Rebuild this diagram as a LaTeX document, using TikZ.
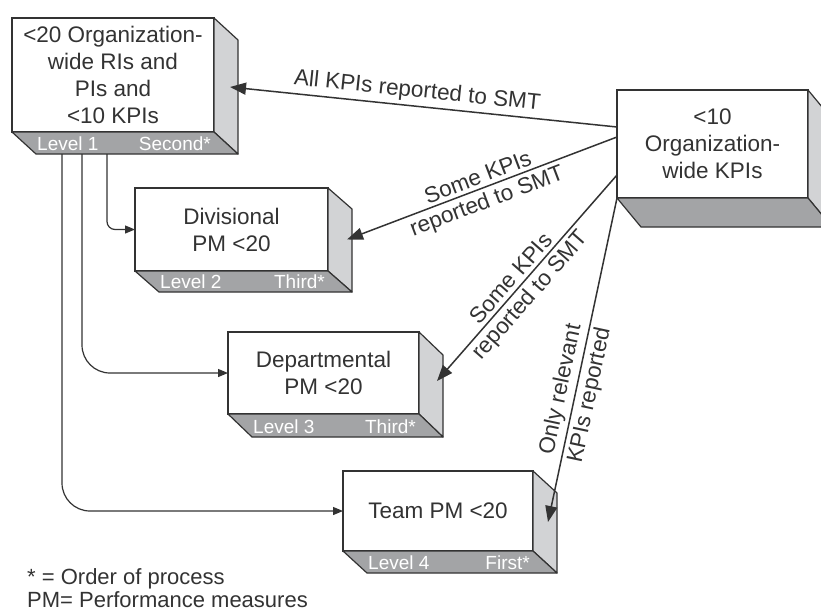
\documentclass[tikz,border=0pt]{standalone}
\usepackage{fontspec}
\setmainfont{Liberation Sans}
\usetikzlibrary{arrows.meta,calc}
\definecolor{ink}{HTML}{333333}
\definecolor{sidegray}{HTML}{D2D3D5}
\definecolor{botgray}{HTML}{A3A4A6}
\tikzset{
  frontbox/.style={draw=ink, fill=white, line width=1.2pt, outer sep=0pt, inner sep=2pt,
    align=center, text=ink, font=\fontsize{22.5}{27}\selectfont},
  sideface/.style={draw=ink, fill=sidegray, line width=1.2pt, line join=round},
  botface/.style={draw=ink, fill=botgray, line width=1.2pt, line join=round},
  lvltext/.style={text=white, font=\fontsize{19}{19}\selectfont, inner sep=0pt},
  arrback/.style={draw=ink, line width=1.5pt, {Triangle[length=16pt,width=12pt]}-},
  elbl/.style={text=ink, font=\fontsize{22.5}{27}\selectfont, inner sep=3.5pt},
  larr/.style={draw=ink, line width=1.2pt, -{Triangle[length=10pt,width=8pt]}},
  foottext/.style={text=ink, font=\fontsize{22}{27}\selectfont, inner sep=0pt},
}
\begin{document}
\begin{tikzpicture}[x=1pt,y=-1pt]
  \path[use as bounding box, fill=white] (0,0) rectangle (821,613);
  \clip (0,0) rectangle (821,613);

  % box level 1
  \node[frontbox, minimum width=202pt, minimum height=114pt] (b1) at (113,75) {<20 Organization-\\wide RIs and\\PIs and\\<10 KPIs};
  \draw[sideface] (b1.north east) -- ++(24,22) -- ++(0,114) -- (b1.south east) -- cycle;
  \draw[botface] (b1.south west) -- ++(24,22) -- ++(202,0) -- (b1.south east) -- cycle;
  \node[lvltext, anchor=base west] (b1l) at ($(b1.south west)+(25,18)$) {Level 1};
  \node[lvltext, anchor=base east] (b1r) at ($(b1.south east)+(-3,18)$) {Second*};

  % organization-wide KPIs
  \node[frontbox, minimum width=191pt, minimum height=108pt] (kpi) at (712.5,144) {<10\\Organization-\\wide KPIs};
  \draw[sideface] (kpi.north east) -- ++(24,29) -- ++(0,108) -- (kpi.south east) -- cycle;
  \draw[botface] (kpi.south west) -- ++(24,29) -- ++(191,0) -- (kpi.south east) -- cycle;

  % box level 2
  \node[frontbox, minimum width=193pt, minimum height=83pt] (b2) at (231.5,229.5) {Divisional\\PM <20};
  \draw[sideface] (b2.north east) -- ++(24,21) -- ++(0,83) -- (b2.south east) -- cycle;
  \draw[botface] (b2.south west) -- ++(24,21) -- ++(193,0) -- (b2.south east) -- cycle;
  \node[lvltext, anchor=base west] (b2l) at ($(b2.south west)+(25,17)$) {Level 2};
  \node[lvltext, anchor=base east] (b2r) at ($(b2.south east)+(-3,17)$) {Third*};

  % box level 3
  \node[frontbox, minimum width=191pt, minimum height=82pt] (b3) at (323.5,373) {Departmental\\PM <20};
  \draw[sideface] (b3.north east) -- ++(24,23) -- ++(0,82) -- (b3.south east) -- cycle;
  \draw[botface] (b3.south west) -- ++(24,23) -- ++(191,0) -- (b3.south east) -- cycle;
  \node[lvltext, anchor=base west] (b3l) at ($(b3.south west)+(25,19)$) {Level 3};
  \node[lvltext, anchor=base east] (b3r) at ($(b3.south east)+(-3,19)$) {Third*};

  % box level 4
  \node[frontbox, minimum width=190pt, minimum height=80pt] (b4) at (438,511) {Team PM <20};
  \draw[sideface] (b4.north east) -- ++(24,22) -- ++(0,80) -- (b4.south east) -- cycle;
  \draw[botface] (b4.south west) -- ++(24,22) -- ++(190,0) -- (b4.south east) -- cycle;
  \node[lvltext, anchor=base west] (b4l) at ($(b4.south west)+(25,18)$) {Level 4};
  \node[lvltext, anchor=base east] (b4r) at ($(b4.south east)+(-3,18)$) {First*};

  % connectors from the organization-wide KPIs
  \draw[arrback] ($(b1.east)+(16,12)$) -- node[elbl, above, sloped, pos=.48] (l1) {All KPIs reported to SMT} ($(kpi.west)+(0,-17)$);
  \draw[arrback] ($(b2.east)+(19,10)$)
     -- node[elbl, above, sloped, pos=.5] (l2a) {Some KPIs}
        node[elbl, below, sloped, pos=.5] (l2b) {reported to SMT} ($(kpi.west)+(0,-7)$);
  \draw[arrback] ($(b3.east)+(18,8)$)
     -- node[elbl, above, sloped, pos=.46] (l3a) {Some KPIs}
        node[elbl, below, sloped, pos=.46] (l3b) {reported to SMT} ($(kpi.west)+(0,31)$);
  \draw[arrback] ($(b4.east)+(15,11)$)
     -- node[elbl, above, sloped, pos=.4] (l4a) {Only relevant}
        node[elbl, below, sloped, pos=.4] (l4b) {KPIs reported} (kpi.south west);

  % connectors from level 1
  \draw[larr, rounded corners=8pt] ($(b1.south west)+(95,22)$) |- (b2.west);
  \draw[larr, rounded corners=28pt] ($(b1.south west)+(70,22)$) |- (b3.west);
  \draw[larr, rounded corners=28pt] ($(b1.south west)+(50,22)$) |- (b4.west);

  % footnotes
  \node[foottext, anchor=base west] (f1) at (27,584) {* = Order of process};
  \node[foottext, anchor=base west] (f2) at (27,607) {PM= Performance measures};
\end{tikzpicture}
\end{document}
